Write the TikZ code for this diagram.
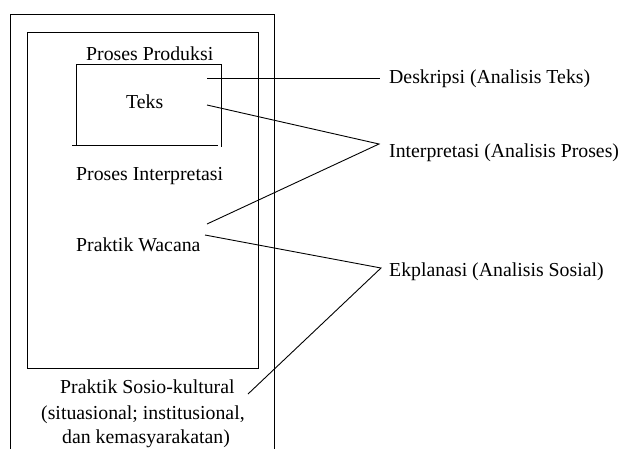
\documentclass[tikz,border=0pt]{standalone}
\usepackage{fontspec}
\setmainfont{Liberation Serif}
\begin{document}
\begin{tikzpicture}[x=1pt,y=-1pt,
  lbl/.style={anchor=base west,inner sep=0pt,font=\fontsize{19.8}{24}\selectfont},
  ln/.style={line width=0.9pt,black}]
\useasboundingbox (0,0) rectangle (625,448);
% frames
\draw[ln] (10,450) -- (10,14) -- (274,14) -- (274,450);
\draw[ln] (27,32) rectangle (258,368);
% text box
\draw[ln] (76,145) -- (76,64) -- (221,64) -- (221,147);
\draw[ln] (72,145) -- (218,145);
% texts
\node[lbl] (pp) at (86,60) {Proses Produksi};
\node[lbl] (teks) at (126,108) {Teks};
\node[lbl] (pi) at (76,180) {Proses Interpretasi};
\node[lbl] (pw) at (76,251) {Praktik Wacana};
\node[lbl] (ps1) at (60,393) {Praktik Sosio-kultural};
\node[lbl] (ps2) at (41,419) {(situasional; institusional,};
\node[lbl] (ps3) at (62,443) {dan kemasyarakatan)};
\node[lbl] (desk) at (389,83) {Deskripsi (Analisis Teks)};
\node[lbl] (intp) at (389,157) {Interpretasi (Analisis Proses)};
\node[lbl] (ekpl) at (389,276) {Ekplanasi (Analisis Sosial)};
% connector endpoints
\coordinate (cd) at (207,78);
\coordinate (jd) at (380,78);
\coordinate (ct) at (207,105);
\coordinate (ji) at (379,144);
\coordinate (cw1) at (207,224);
\coordinate (cw2) at (205,235);
\coordinate (je) at (381,268);
\coordinate (cs) at (248,394);
% connectors
\draw[ln] (cd) -- (jd);
\draw[ln] (ct) -- (ji) -- (cw1);
\draw[ln] (cw2) -- (je) -- (cs);
\end{tikzpicture}
\end{document}
